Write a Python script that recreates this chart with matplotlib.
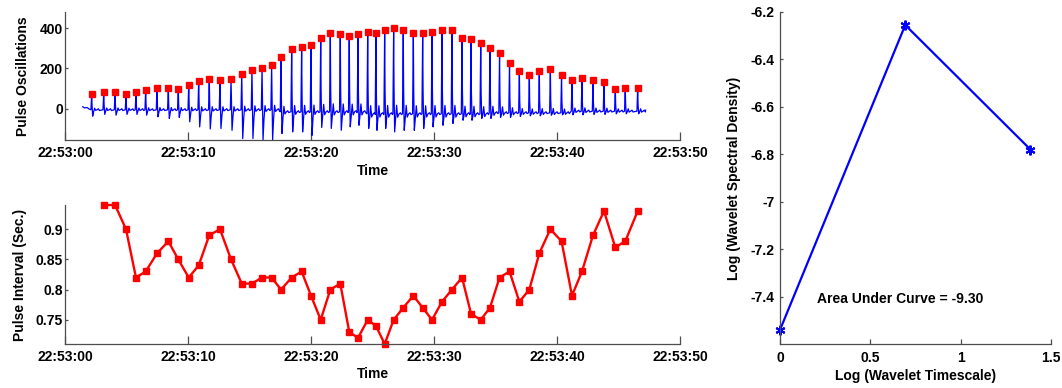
import datetime as dt
import numpy as np
import matplotlib
matplotlib.use('Agg')
import matplotlib.pyplot as plt
import matplotlib.dates as mdates

# beat times, seconds after 22:53:00
peak_times = [2.17, 3.15, 4.07, 4.96, 5.77, 6.56, 7.48, 8.40, 9.21, 10.06,
              10.87, 11.73, 12.60, 13.50, 14.37, 15.20, 16.02, 16.80, 17.56, 18.43,
              19.24, 20.00, 20.79, 21.57, 22.38, 23.11, 23.82, 24.61, 25.28, 25.99,
              26.72, 27.50, 28.32, 29.08, 29.84, 30.65, 31.46, 32.28, 33.01, 33.80,
              34.55, 35.33, 36.14, 36.94, 37.75, 38.56, 39.46, 40.37, 41.22, 42.03,
              42.93, 43.82, 44.74, 45.55, 46.56]
peak_values = [72, 83, 83, 72, 83, 93, 103, 103, 98, 120,
               140, 147, 142, 147, 173, 193, 203, 215, 257, 298,
               305, 315, 352, 378, 373, 363, 373, 380, 375, 390,
               400, 390, 375, 375, 383, 390, 390, 353, 348, 327,
               300, 275, 228, 185, 168, 185, 195, 168, 142, 153,
               142, 133, 100, 105, 105]
trough_values = [-37, -28, -32, -28, -28, -32, -40, -48, -43, -65,
                 -90, -100, -98, -107, -148, -148, -155, -155, -123, -115,
                 -115, -132, -93, -98, -107, -90, -82, -98, -107, -98,
                 -115, -107, -107, -98, -90, -82, -73, -57, -57, -48,
                 -48, -43, -43, -38, -35, -35, -32, -30, -30, -30,
                 -28, -28, -25, -25, -25]
baseline_values = [-5] * 18 + [-15] * 9 + [-25] * 13 + [-20] * 8 + [-12] * 7

# pulse interval (s) for each beat after the first
interval_values = [0.94, 0.94, 0.90, 0.82, 0.83, 0.86, 0.88, 0.85, 0.82, 0.84,
                   0.89, 0.90, 0.85, 0.81, 0.81, 0.82, 0.82, 0.80, 0.82, 0.83,
                   0.79, 0.75, 0.80, 0.81, 0.73, 0.72, 0.75, 0.74, 0.71, 0.75,
                   0.77, 0.79, 0.77, 0.75, 0.78, 0.80, 0.82, 0.76, 0.75, 0.77,
                   0.82, 0.83, 0.78, 0.80, 0.86, 0.90, 0.88, 0.79, 0.83, 0.89,
                   0.93, 0.87, 0.88, 0.93]

# recording before the first beat and after the last one
lead_in_t = [1.44, 1.6, 1.8, 2.0]
lead_in_v = [10, 4, 6, -3]
tail_t = [47.2]
tail_v = [-7]

wavelet_log_scale = [0.0, 0.693, 1.386]
wavelet_log_density = [-7.54, -6.255, -6.78]

start = dt.datetime(2012, 1, 1, 22, 53, 0)


def to_dates(secs):
    return [start + dt.timedelta(seconds=float(s)) for s in secs]


# build the oscillation trace beat by beat
beat_offsets = [-0.06, 0.0, 0.03, 0.08, 0.16, 0.24, 0.32, 0.44, 0.55, 0.63]
trace_t = list(lead_in_t)
trace_v = list(lead_in_v)
for tp, pk, tr, base in zip(peak_times, peak_values, trough_values, baseline_values):
    rise = pk - base
    shape = [base, pk, base + 0.3 * rise, tr, base - 0.3 * (base - tr),
             base + 0.1 * rise, base - 0.04 * rise, base, base + 5, base - 4]
    trace_t += [tp + o for o in beat_offsets]
    trace_v += shape
trace_t += tail_t
trace_v += tail_v

plt.rcParams['font.family'] = 'Liberation Sans'
plt.rcParams['font.weight'] = 'bold'
plt.rcParams['axes.labelweight'] = 'bold'
plt.rcParams['font.size'] = 10
plt.rcParams['axes.unicode_minus'] = False

axis_color = '0.3'

fig = plt.figure(figsize=(10.62, 3.88), dpi=100)
ax1 = fig.add_axes([0.0612, 0.6392, 0.5791, 0.3299])
ax2 = fig.add_axes([0.0612, 0.1134, 0.5791, 0.3582])
ax3 = fig.add_axes([0.7345, 0.1134, 0.2552, 0.8557])

for ax in (ax1, ax2, ax3):
    for side in ('top', 'right'):
        ax.spines[side].set_visible(False)
    for side in ('left', 'bottom'):
        ax.spines[side].set_color(axis_color)
        ax.spines[side].set_linewidth(0.9)
    ax.tick_params(direction='in', color=axis_color, width=0.9, labelsize=10)

# pulse oscillations
ax1.plot(to_dates(trace_t), trace_v, color='blue', lw=0.9)
ax1.plot(to_dates(peak_times), peak_values, 's', color='red', ms=5, mec='red',
         clip_on=False)
ax1.set_ylim(-155, 480)
ax1.set_yticks([0, 200, 400])
ax1.set_ylabel('Pulse Oscillations', labelpad=7)

# pulse intervals
ax2.plot(to_dates(peak_times[1:]), interval_values, '-s', color='red', lw=1.7,
         ms=4, clip_on=False)
ax2.set_ylim(0.71, 0.94)
ax2.set_yticks([0.75, 0.8, 0.85, 0.9])
ax2.set_yticklabels(['0.75', '0.8', '0.85', '0.9'])
ax2.set_ylabel('Pulse Interval (Sec.)', labelpad=6)

for ax in (ax1, ax2):
    ax.set_xlim(start, start + dt.timedelta(seconds=50))
    ax.xaxis.set_major_locator(mdates.SecondLocator(bysecond=[0, 10, 20, 30, 40, 50]))
    ax.xaxis.set_major_formatter(mdates.DateFormatter('%H:%M:%S'))
    ax.set_xlabel('Time')
    ax.tick_params(axis='x', length=5.5, pad=4)
    ax.tick_params(axis='y', length=2.5, pad=1.5)
    ax.xaxis.set_label_coords(0.5, -0.19 if ax is ax1 else -0.165)

# wavelet spectrum
area = np.trapezoid(wavelet_log_density, wavelet_log_scale)
ax3.plot(wavelet_log_scale, wavelet_log_density, '-', color='blue', lw=1.6,
         marker=(6, 2, 0), ms=7, mew=1.5, clip_on=False)
ax3.set_xlim(0, 1.5)
ax3.set_ylim(-7.6, -6.2)
ax3.set_xticks([0, 0.5, 1, 1.5])
ax3.set_xticklabels(['0', '0.5', '1', '1.5'])
ax3.set_yticks([-7.4, -7.2, -7, -6.8, -6.6, -6.4, -6.2])
ax3.set_yticklabels(['-7.4', '-7.2', '-7', '-6.8', '-6.6', '-6.4', '-6.2'])
ax3.tick_params(axis='x', length=3.5, pad=5)
ax3.tick_params(axis='y', length=2.5, pad=4)
ax3.set_xlabel('Log (Wavelet Timescale)', labelpad=3)
ax3.set_ylabel('Log (Wavelet Spectral Density)', labelpad=7)
ax3.text(0.205, -7.412, 'Area Under Curve = %.2f' % area, ha='left', va='center',
         fontsize=10, fontweight='bold')

fig.savefig('out.png', dpi=100)
